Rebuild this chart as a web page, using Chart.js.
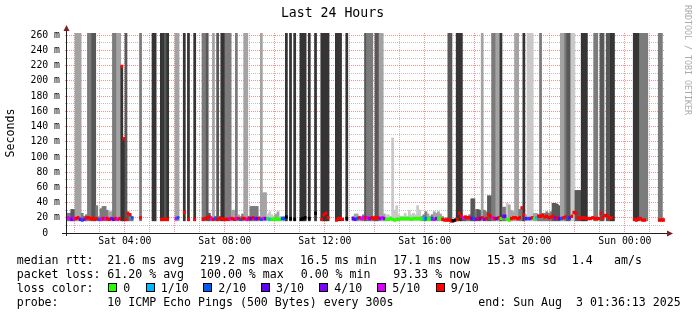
<!DOCTYPE html>
<html>
<head>
<meta charset="utf-8">
<script src="https://cdn.jsdelivr.net/npm/chart.js@4.4.0/dist/chart.umd.min.js"></script>
<style>
  body { margin: 0; background: #fff; }
  #wrap { position: relative; width: 697px; height: 315px; font-family: 'DejaVu Sans Mono', monospace; }
  canvas { position: absolute; left: 0; top: 0; }
  .t { position: absolute; font-size: 11.6px; line-height: 14px; white-space: pre; color: #000; }
  .sq { position: absolute; width: 7px; height: 7px; border: 1px solid #000; }
  #credit { position: absolute; left: 684px; top: 5px; writing-mode: vertical-rl; font-size: 8.3px; line-height: 8px; color: #aaa; white-space: pre; }
</style>
</head>
<body>
<div id="wrap">
  <canvas id="myChart" width="697" height="315"></canvas>
  <div id="credit">RRDTOOL / TOBI OETIKER</div>
  <div id="legend"></div>
</div>
<script>
// 288 five-minute samples, first one 01:35 Sat, one row per hour
const smokeTop = [
  null, 26, 26, 31, 31, 300, 300, 300, 26, 22, 24, 300,
  300, 300, 300, 36, 22, 32, 35, 35, 30, 28, 28, 300,
  300, 300, 300, 219, 124, 300, 26, 24, 20, null, null, null,
  300, null, null, null, null, null, 300, 300, null, null, 300, 300,
  300, 300, null, null, null, 300, 300, null, null, 300, null, 300,
  null, null, 300, null, null, null, 300, 300, 300, 26, 22, 300,
  22, 300, 22, 300, 300, 300, 300, 300, 30, 30, 300, 24,
  22, 25, 300, 300, 22, 35, 35, 35, 35, 22, 300, 53,
  53, 25, 28, 24, 22, 25, 28, 22, 22, 22, 300, null,
  300, null, 300, null, null, 300, 300, 300, null, 300, null, null,
  300, null, null, 300, 300, 300, 300, null, null, null, 300, 300,
  300, null, null, 300, null, null, 22, 25, 25, 22, 22, 24,
  300, 300, 300, 300, 22, 300, 300, 300, 300, 25, 24, 24,
  22, 125, 30, 36, 24, 22, 22, 26, 22, 30, 24, 26,
  24, 36, 30, 22, 24, 28, 25, 22, 24, 28, 26, 28,
  25, 22, 20, 20, 300, 300, null, null, 300, 300, 300, 22,
  22, 22, 24, 45, 45, 31, 31, 30, 300, 30, 28, 49,
  49, 300, 300, 300, 300, 300, 34, 34, 39, 37, 30, 28,
  300, 300, 31, 31, 300, 24, 300, 300, 300, 26, 26, 24,
  300, 26, 26, 28, 26, 28, 39, 39, 38, 36, 300, 300,
  300, 300, 300, 300, 300, 56, 56, 56, 300, 300, 300, null,
  null, null, 300, 300, null, 300, 300, null, 300, 300, 300, 300,
  null, null, null, null, null, null, null, null, null, 300, 300, 300,
  300, 300, 300, 300, null, null, null, null, null, 300, 300, 19
];

// smoke density level 1 (dark) .. 5 (light)
const smokeShade = [
  0, 3, 3, 2, 2, 4, 4, 4, 3, 3, 3, 3,
  3, 2, 2, 3, 4, 3, 3, 3, 3, 4, 4, 3,
  3, 4, 4, 1, 1, 2, 2, 3, 3, 0, 0, 0,
  3, 0, 0, 0, 0, 0, 1, 1, 0, 0, 1, 1,
  2, 1, 0, 0, 0, 4, 4, 0, 0, 1, 0, 1,
  0, 0, 1, 0, 0, 0, 3, 3, 2, 2, 3, 4,
  3, 2, 3, 1, 1, 3, 3, 3, 4, 4, 3, 4,
  4, 3, 4, 4, 3, 3, 3, 3, 3, 4, 4, 4,
  4, 5, 5, 5, 5, 4, 4, 5, 5, 4, 1, 0,
  1, 0, 1, 0, 0, 1, 1, 1, 0, 1, 0, 0,
  1, 0, 0, 1, 1, 1, 1, 0, 0, 0, 1, 1,
  1, 0, 0, 1, 0, 0, 4, 4, 4, 4, 4, 3,
  2, 3, 3, 3, 3, 2, 2, 4, 4, 4, 5, 5,
  5, 5, 5, 5, 5, 5, 5, 5, 5, 5, 5, 5,
  5, 5, 5, 4, 3, 3, 4, 4, 3, 4, 4, 4,
  4, 4, 4, 3, 2, 2, 0, 0, 1, 1, 1, 2,
  2, 3, 3, 2, 2, 3, 2, 2, 4, 3, 3, 2,
  2, 3, 3, 4, 4, 1, 3, 3, 5, 4, 4, 4,
  4, 4, 3, 3, 1, 4, 5, 5, 5, 4, 4, 3,
  3, 3, 3, 3, 3, 3, 2, 2, 2, 2, 4, 4,
  3, 2, 2, 5, 5, 2, 2, 2, 1, 1, 1, 0,
  0, 0, 3, 3, 0, 2, 2, 0, 2, 2, 1, 1,
  0, 0, 0, 0, 0, 0, 0, 0, 0, 1, 1, 1,
  3, 3, 3, 3, 0, 0, 0, 0, 0, 3, 3, 3
];

const medianRtt = [
  null, 20, 19, 18, 19, 19, 20, 18, 17, 18, 20, 20,
  19, 19, 18, 19, 18, 18, 19, 19, 19, 18, 19, 18,
  19, 18, 19, 219, 124, 18, 26, 24, 20, null, null, null,
  20, null, null, null, null, null, null, null, null, null, 18, 18,
  18, 18, null, null, null, 19, 20, null, null, 27, null, 18,
  null, null, 18, null, null, null, 18, 19, 20, 21, 19, 18,
  19, 18, 19, 19, 18, 18, 18, 19, 19, 18, 19, 19,
  18, 19, 19, 18, 19, 19, 20, 19, 19, 19, 18, 19,
  19, 19, 18, 18, 18, 19, 18, 18, 19, 19, 21, null,
  19, null, 18, null, null, 18, 19, 20, null, 19, null, null,
  26, null, null, 18, 24, 26, 20, null, null, null, 17, 19,
  19, 18, null, 19, null, null, 19, 18, 19, 20, 19, 20,
  20, 20, 19, 20, 19, 20, 20, 19, 20, 19, 18, 18,
  19, 18, 17, 18, 18, 19, 19, 19, 19, 19, 18, 19,
  19, 19, 19, 18, 19, 19, 18, 19, 19, 18, 19, 19,
  19, 18, 17, 17, 17, 16, 16, 17, 18, 26, 22, 20,
  21, 20, 20, 19, 19, 18, 19, 19, 20, 18, 19, 24,
  22, 20, 19, 19, 20, 19, 22, 22, 18, 17, 19, 20,
  20, 19, 20, 33, 24, 19, 19, 19, 20, 19, 20, 22,
  22, 23, 21, 22, 20, 21, 22, 20, 20, 19, 19, 20,
  21, 19, 20, 22, 27, 26, 20, 19, 20, 20, 19, 19,
  19, 20, 19, 19, 19, 26, 20, 23, 23, 20, 20, null,
  null, null, null, null, null, null, null, null, null, 18, 17, 19,
  19, 17, 17, null, null, null, null, null, null, 17, 17, 17
];

// lost pings out of 10 (10 = drawn black)
const lossCount = [
  null, 5, 5, 3, 5, 9, 9, 3, 2, 4, 9, 9,
  9, 9, 9, 9, 2, 5, 9, 5, 9, 9, 4, 3,
  9, 5, 9, 9, 9, 9, 9, 9, 2, null, null, null,
  9, null, null, null, null, null, null, null, null, null, 9, 9,
  9, 9, null, null, null, 5, 2, null, null, 9, null, 9,
  null, null, 9, null, null, null, 9, 9, 9, 9, 5, 9,
  2, 9, 9, 9, 9, 9, 9, 5, 9, 9, 5, 9,
  2, 9, 9, 5, 9, 3, 9, 4, 3, 9, 2, 5,
  3, 0, 1, 0, 0, 0, 0, 0, 2, 2, 10, null,
  10, null, 10, null, null, 10, 10, 10, null, 10, null, null,
  10, null, null, 9, 9, 9, 9, null, null, null, 9, 9,
  9, 9, null, 10, null, null, 3, 3, 2, 9, 5, 5,
  9, 5, 4, 9, 9, 9, 9, 4, 5, 4, 0, 0,
  0, 0, 0, 0, 0, 0, 0, 0, 0, 0, 0, 0,
  0, 0, 0, 0, 1, 2, 0, 0, 2, 5, 4, 0,
  0, 9, 9, 9, 9, 9, 10, 10, 9, 9, 9, 5,
  9, 9, 9, 3, 2, 4, 9, 3, 9, 4, 9, 9,
  9, 5, 9, 3, 9, 0, 4, 3, 0, 0, 9, 9,
  9, 9, 9, 9, 9, 3, 2, 4, 9, 0, 1, 9,
  9, 9, 9, 9, 9, 9, 9, 4, 9, 3, 2, 9,
  9, 2, 3, 9, 9, 9, 9, 9, 9, 9, 9, 9,
  9, 9, 9, 9, 9, 9, 9, 9, 9, 9, 9, null,
  null, null, null, null, null, null, null, null, null, 9, 9, 9,
  9, 9, 9, null, null, null, null, null, null, 9, 9, 9
];

const tickHours = [4, 8, 12, 16, 20, 24];
const tickLabels = ['Sat 04:00', 'Sat 08:00', 'Sat 12:00', 'Sat 16:00', 'Sat 20:00', 'Sun 00:00'];

const lossLegend = ['0', '1/10', '2/10', '3/10', '4/10', '5/10', '9/10'];
const lossLegendKeys = [0, 1, 2, 3, 4, 5, 9];

const lossColors = { 0: '#26ff00', 1: '#00b8ff', 2: '#0059ff', 3: '#5e00ff', 4: '#7e00ff', 5: '#dd00ff', 9: '#ff0000', 10: '#000000' };
const shadeColors = ['#ffffff', '#353535', '#585858', '#7b7b7b', '#a3a3a3', '#c9c9c9'];
const FONT = "'DejaVu Sans Mono', monospace";
// rrdtool default grid colours
const MAJOR = 'rgba(222, 79, 79, 0.6)';
const MINOR = 'rgba(143, 143, 143, 0.55)';

const startHour = 1 + 36 / 60 + 13 / 3600;   // 01:36:13
const slotHour = k => (97.5 + 5 * k) / 60;    // center of sample k

const smokeData = [], smokeColors = [];
const medData = [], medColors = [];
smokeTop.forEach((top, k) => {
  if (top !== null) {
    smokeData.push({ x: slotHour(k), y: [16, top] });
    smokeColors.push(shadeColors[smokeShade[k]]);
  }
  if (medianRtt[k] !== null) {
    medData.push({ x: slotHour(k), y: [medianRtt[k] - 1.8, medianRtt[k] + 1.8] });
    medColors.push(lossColors[lossCount[k]]);
  }
});

// axis lines with arrow heads, like rrdtool
const axisArrows = {
  id: 'axisArrows',
  afterDraw(chart) {
    const { ctx, chartArea: a } = chart;
    const x0 = a.left + 1.5, y0 = a.bottom + 0.5;
    ctx.save();
    ctx.strokeStyle = '#1f1f1f';
    ctx.lineWidth = 1;
    ctx.beginPath();
    ctx.moveTo(x0, a.bottom + 3);
    ctx.lineTo(x0, a.top - 2);
    ctx.moveTo(a.left - 3, y0);
    ctx.lineTo(a.right + 3, y0);
    ctx.stroke();
    ctx.fillStyle = '#801f1f';
    ctx.beginPath();
    ctx.moveTo(x0, a.top - 8);
    ctx.lineTo(x0 - 3, a.top - 2);
    ctx.lineTo(x0 + 3, a.top - 2);
    ctx.closePath();
    ctx.fill();
    ctx.beginPath();
    ctx.moveTo(a.right + 8, y0);
    ctx.lineTo(a.right + 2, y0 - 3);
    ctx.lineTo(a.right + 2, y0 + 3);
    ctx.closePath();
    ctx.fill();
    ctx.restore();
  }
};

const config = {
  type: 'bar',
  data: {
    datasets: [
      {
        data: medData,
        backgroundColor: medColors,
        barPercentage: 1,
        categoryPercentage: 1,
        grouped: false,
        order: 0,
        clip: 0
      },
      {
        data: smokeData,
        backgroundColor: smokeColors,
        barPercentage: 1,
        categoryPercentage: 1,
        grouped: false,
        order: 1,
        clip: 0
      }
    ]
  },
  options: {
    responsive: false,
    devicePixelRatio: 1,
    animation: false,
    layout: { padding: { left: 0, right: 32, top: 0, bottom: 0 } },
    plugins: {
      legend: { display: false },
      tooltip: { enabled: false },
      title: {
        display: true,
        text: 'Last 24 Hours',
        color: '#000',
        font: { family: FONT, size: 13.2, weight: 'normal' },
        padding: { top: 6, bottom: 11.16 }
      }
    },
    scales: {
      x: {
        type: 'linear',
        min: startHour,
        max: startHour + 24,
        offset: false,
        z: 1,
        afterBuildTicks: s => {
          s.ticks = [];
          for (let h = 2; h <= 25; h++) s.ticks.push({ value: h });
        },
        afterFit: s => { s.height = 82; },
        ticks: {
          autoSkip: false,
          maxRotation: 0,
          padding: 3,
          color: '#000',
          font: { family: FONT, size: 9.8 },
          callback: v => {
            const i = tickHours.indexOf(v);
            return i >= 0 ? tickLabels[i] : '';
          }
        },
        grid: {
          offset: false,
          drawTicks: false,
          color: c => (c.tick && c.tick.value % 2 === 0 ? MAJOR : MINOR)
        },
        border: { display: false, dash: [1, 1] }
      },
      y: {
        min: 0,
        max: 263,
        z: 1,
        afterBuildTicks: s => {
          s.ticks = [];
          for (let v = 0; v <= 260; v += 10) s.ticks.push({ value: v });
        },
        afterFit: s => { s.width = 65; },
        ticks: {
          autoSkip: false,
          padding: 5,
          color: '#000',
          font: { family: FONT, size: 9.8 },
          callback: v => (v % 20 ? '' : (v === 0 ? '0  ' : v + ' m'))
        },
        grid: {
          drawTicks: false,
          color: c => (c.tick && c.tick.value % 20 === 0 ? MAJOR : MINOR)
        },
        border: { display: false, dash: [1, 1] },
        title: {
          display: true,
          text: 'Seconds',
          color: '#000',
          font: { family: FONT, size: 11.6 },
          padding: { top: 4, bottom: 0 }
        }
      }
    }
  },
  plugins: [axisArrows]
};

const ctx = document.getElementById('myChart').getContext('2d');
const myChart = new Chart(ctx, config);

// text legend under the graph
const legend = document.getElementById('legend');
function put(text, x, row) {
  const d = document.createElement('div');
  d.className = 't';
  d.textContent = text;
  d.style.left = x + 'px';
  d.style.top = (252.8 + row * 14.1) + 'px';
  legend.appendChild(d);
}
put('median rtt:', 16.7, 0);
put('21.6 ms avg', 107.3, 0);
put('219.2 ms max', 200, 0);
put('16.5 ms min', 300, 0);
put('17.1 ms now', 393.3, 0);
put('15.3 ms sd', 486.7, 0);
put('1.4', 571.7, 0);
put('am/s', 614, 0);
put('packet loss:', 16.7, 1);
put('61.20 % avg', 107.3, 1);
put('100.00 % max', 200, 1);
put('0.00 % min', 300.7, 1);
put('93.33 % now', 393.3, 1);
put('loss color:', 16.7, 2);
const sqX = [108.3, 145.7, 203.3, 261, 319.3, 377.3, 435.7];
lossLegend.forEach((lab, i) => {
  const s = document.createElement('div');
  s.className = 'sq';
  s.style.left = sqX[i] + 'px';
  s.style.top = '283px';
  s.style.background = lossColors[lossLegendKeys[i]];
  legend.appendChild(s);
  put(lab, sqX[i] + 15, 2);
});
put('probe:', 16.7, 3);
put('10 ICMP Echo Pings (500 Bytes) every 300s', 107.3, 3);
put('end: Sun Aug  3 01:36:13 2025', 478.3, 3);
</script>
</body>
</html>
